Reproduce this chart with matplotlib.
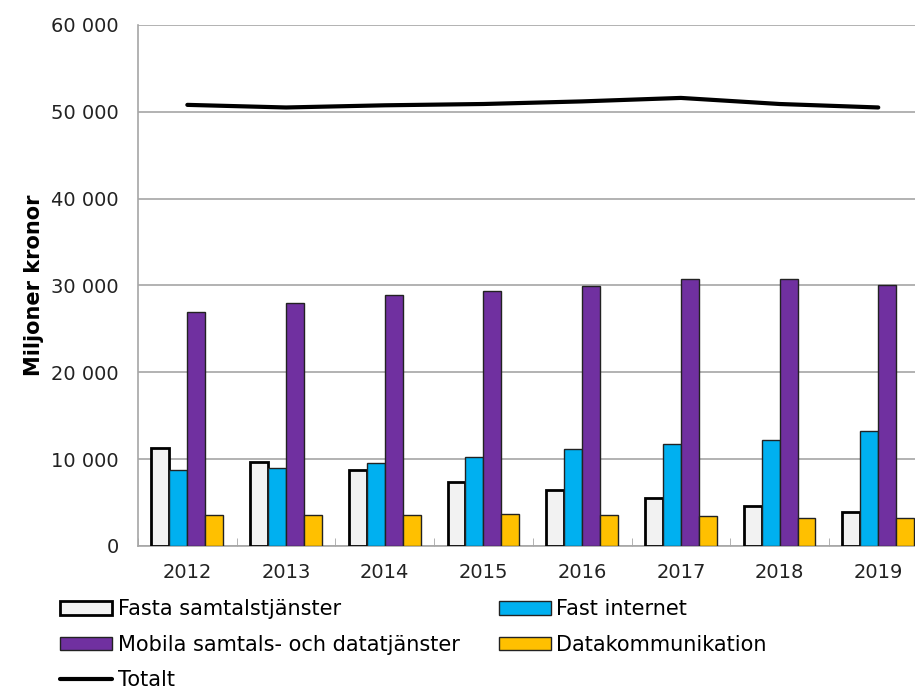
import numpy as np
import matplotlib.pyplot as plt
from matplotlib.ticker import FuncFormatter, MultipleLocator

# Data (miljoner kronor)
years = ['2012', '2013', '2014', '2015', '2016', '2017', '2018', '2019']
fasta = [11300, 9700, 8800, 7400, 6500, 5500, 4600, 3900]
internet = [8700, 9000, 9500, 10250, 11200, 11800, 12200, 13200]
mobila = [27000, 28000, 28900, 29400, 29900, 30700, 30700, 30100]
datakomm = [3600, 3600, 3600, 3700, 3600, 3500, 3200, 3200]
totalt = [50800, 50500, 50750, 50900, 51200, 51600, 50900, 50500]

labels = ['Fasta samtalstjänster', 'Fast internet',
          'Mobila samtals- och datatjänster', 'Datakommunikation', 'Totalt']
colors = ['#F2F2F2', '#00B0F0', '#7030A0', '#FFC000']

plt.rcParams['font.family'] = ['DejaVu Sans']

fig = plt.figure(figsize=(9.15, 6.92), dpi=100)
ax = fig.add_axes([0.1508, 0.211, 0.863, 0.7529])

x = np.arange(len(years))
w = 0.182
series = [fasta, internet, mobila, datakomm]
bars = []
for i, (vals, c) in enumerate(zip(series, colors)):
    if i == 0:
        b = ax.bar(x + (i - 1.5) * w, vals, w, color=c, edgecolor='black', linewidth=2.0, zorder=3)
    else:
        b = ax.bar(x + (i - 1.5) * w, vals, w, color=c, edgecolor='#222222', linewidth=1.0, zorder=3)
    bars.append(b)

line, = ax.plot(x, totalt, color='black', linewidth=3.0, solid_capstyle='round', zorder=4)

ax.set_xlim(-0.5, len(years) - 0.5)
ax.set_ylim(0, 60000)
ax.yaxis.set_major_locator(MultipleLocator(10000))
ax.yaxis.set_major_formatter(FuncFormatter(lambda v, p: f'{int(v):,}'.replace(',', ' ')))
ax.grid(axis='y', color='#A6A6A6', linewidth=1.2, zorder=0)
ax.set_axisbelow(True)

ax.set_xticks(x)
ax.set_xticklabels(years)
ax.set_xticks(np.arange(len(years) + 1) - 0.5, minor=True)
ax.tick_params(axis='x', which='major', length=0, labelsize=14, pad=12, labelcolor='#222222')
ax.tick_params(axis='x', which='minor', direction='in', length=6, color='#A6A6A6')
ax.tick_params(axis='y', length=0, labelsize=14, pad=14, labelcolor='#222222')

for s in ['top', 'right']:
    ax.spines[s].set_visible(False)
for s in ['left', 'bottom']:
    ax.spines[s].set_color('#A6A6A6')
    ax.spines[s].set_linewidth(1.2)

ax.set_ylabel('Miljoner kronor', fontsize=15, fontweight='bold', labelpad=5)

handles = [bars[0], bars[2], line, bars[1], bars[3]]
hl = [labels[0], labels[2], labels[4], labels[1], labels[3]]
fig.legend(handles, hl, loc='upper left', bbox_to_anchor=(0.066, 0.134),
           bbox_transform=fig.transFigure, ncol=2, frameon=False, fontsize=15,
           handlelength=2.5, handleheight=0.6, handletextpad=0.25,
           columnspacing=1.9, labelspacing=0.74, borderaxespad=0, borderpad=0)

fig.savefig('out.png', dpi=100)
